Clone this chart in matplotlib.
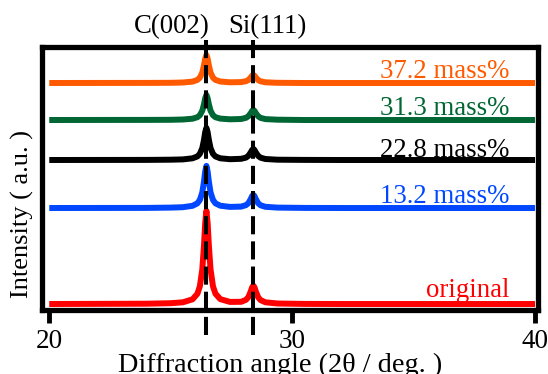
import matplotlib
matplotlib.use("Agg")
import matplotlib.pyplot as plt

plt.rcParams["font.family"] = ["Liberation Serif", "DejaVu Serif"]

# 2theta sample points (deg.)
two_theta = [20, 24.0, 25.0, 25.5, 25.9, 26.1, 26.2, 26.3, 26.37, 26.42, 26.47, 26.52,
             26.57, 26.64, 26.74, 26.84, 27.04, 27.44, 27.9, 28.1, 28.2, 28.3, 28.35,
             28.4, 28.45, 28.5, 28.6, 28.7, 28.9, 29.4, 30.5, 32, 40]

# intensities (a.u., already offset)
original = [6, 6.3, 6.8, 7.7, 10.7, 16.3, 23.8, 40.5, 64.7, 87.0, 99.1, 87.0, 64.7,
            40.5, 23.8, 16.4, 10.9, 8.1, 8.2, 10.2, 13.0, 18.9, 22.6, 24.4, 22.6,
            18.8, 12.8, 9.9, 7.7, 6.5, 6.1, 6.0, 6]
mass_13_2 = [102, 102.1, 102.4, 102.8, 104.2, 106.7, 110.1, 117.6, 128.5, 138.6, 144.1,
             138.6, 128.5, 117.6, 110.1, 106.7, 104.3, 103.1, 103.4, 104.9, 106.9, 111.2,
             113.9, 115.2, 113.9, 111.1, 106.8, 104.7, 103.2, 102.4, 102.1, 102, 102]
mass_22_8 = [150, 150.1, 150.3, 150.6, 151.7, 153.6, 156.2, 161.9, 170.2, 177.9, 182.1,
             177.9, 170.2, 161.9, 156.2, 153.6, 151.7, 150.8, 151.2, 152.4, 154.2, 157.8,
             160.0, 161.1, 160.0, 157.7, 154.1, 152.3, 151.0, 150.3, 150.1, 150, 150]
mass_31_3 = [190, 190.1, 190.2, 190.5, 191.3, 192.8, 194.8, 199.3, 205.8, 211.8, 215.1,
             211.8, 205.8, 199.3, 194.8, 192.8, 191.4, 190.7, 191.0, 192.2, 193.8, 197.0,
             199.1, 200.1, 199.1, 197.0, 193.7, 192.1, 190.9, 190.3, 190, 190, 190]
mass_37_2 = [227, 227.1, 227.2, 227.5, 228.4, 230.1, 232.4, 237.4, 244.7, 251.4, 255.0,
             251.4, 244.7, 237.4, 232.4, 230.1, 228.5, 227.7, 227.9, 228.8, 230.0, 232.7,
             234.3, 235.1, 234.3, 232.6, 229.9, 228.7, 227.7, 227.2, 227, 227, 227]

series = [original, mass_13_2, mass_22_8, mass_31_3, mass_37_2]
labels = ["original", "13.2 mass%", "22.8 mass%", "31.3 mass%", "37.2 mass%"]
colors = ["#ff0000", "#0047ff", "#000000", "#006633", "#ff5a00"]
label_y = [13, 107, 153, 195, 232]

peak_pos = [26.47, 28.40]
peak_names = ["C(002)", "Si(111)"]
peak_text_x = [25.03, 29.0]

fig = plt.figure(figsize=(5.48, 3.74), dpi=100)
ax = fig.add_axes([0.0766, 0.1711, 0.9051, 0.7019])

for y, c in zip(series, colors):
    ax.plot(two_theta, y, color=c, lw=4.3, solid_joinstyle="round",
            solid_capstyle="butt")

for y, lab, c in zip(label_y, labels, colors):
    ax.text(38.95, y, lab, color=c, fontsize=19.3, ha="right", va="baseline")

for x in peak_pos:
    ax.axvline(x, ymin=-0.095, ymax=1.029, color="black", lw=2.9,
               linestyle=(0, (4.5, 1.75)), clip_on=False, zorder=5)

for x, name in zip(peak_text_x, peak_names):
    ax.text(x, 277, name, fontsize=19.3, ha="center", va="baseline", clip_on=False)

ax.set_xlim(19.70, 40.12)
ax.set_ylim(0, 262.5)
ax.set_xticks([20, 30, 40])
ax.set_yticks([])
ax.tick_params(axis="x", direction="out", length=9, width=3.5, labelsize=19.5, pad=5)
for s in ax.spines.values():
    s.set_linewidth(3.8)

fig.text(280 / 548, 2 / 374, "Diffraction angle (2θ / deg. )", fontsize=20.3,
         ha="center", va="baseline")
fig.text(22.5 / 548, 1 - 213.5 / 374, "Intensity ( a.u. )", fontsize=19,
         rotation=90, ha="center", va="center")

fig.savefig("out.png", dpi=100)
